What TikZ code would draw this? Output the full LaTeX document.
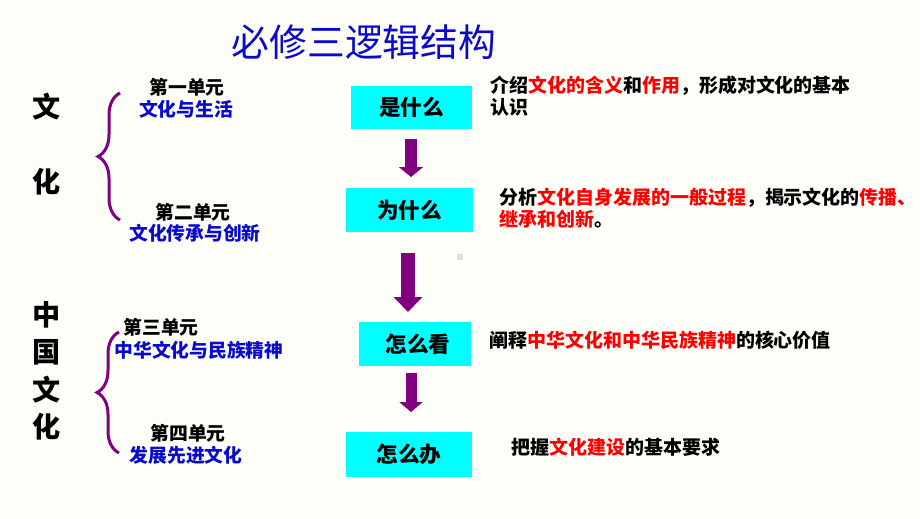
\documentclass[tikz,border=0pt]{standalone}
\usepackage{fontspec}
\setmainfont{Noto Sans CJK SC}
\usetikzlibrary{decorations.pathreplacing,arrows.meta}
\definecolor{zise}{RGB}{128,0,128}
\definecolor{lan}{RGB}{10,10,205}
\definecolor{qing}{RGB}{0,255,255}
\definecolor{mibai}{RGB}{254,254,249}
\tikzset{
  unit/.style={font=\fontsize{10.7}{12}\selectfont\bfseries, inner sep=0},
  topic/.style={unit, text=lan},
  wenti/.style={fill=qing, font=\fontsize{12.3}{14}\selectfont\bfseries, inner sep=0},
  desc/.style={font=\fontsize{10.8}{12.6}\selectfont\bfseries, inner sep=0, anchor=west, align=left},
  bigzi/.style={font=\fontsize{16}{21.3}\selectfont\bfseries, inner sep=0, align=center},
  kuohao/.style={zise, line width=0.06cm, decorate, decoration={brace, amplitude=0.44cm}},
  jiantou/.style={zise}
}
\begin{document}
\begin{tikzpicture}[x=0.02cm, y=-0.02cm]
\fill[mibai] (0,0) rectangle (920,518);
\useasboundingbox (0,0) rectangle (920,518);
\node[text=lan, font=\fontsize{21.5}{24}\selectfont, inner sep=0] (title) at (364,42) {必修三逻辑结构};
\node[bigzi] (wen) at (47,107) {文};
\node[bigzi] (hua) at (47,182) {化};
\node[bigzi] (zgwh) at (47,371) {中\\国\\文\\化};
\draw[kuohao] (120,220) -- (120,93);
\draw[kuohao] (119,453) -- (119,332);
\node[unit] (u1) at (187,87) {第一单元};
\node[topic] (t1) at (186,109) {文化与生活};
\node[unit] (u2) at (193,212) {第二单元};
\node[topic] (t2) at (195,233) {文化传承与创新};
\node[unit] (u3) at (161,327) {第三单元};
\node[topic] (t3) at (199,350) {中华文化与民族精神};
\node[unit] (u4) at (188,433) {第四单元};
\node[topic] (t4) at (186,455) {发展先进文化};
\node[wenti, minimum width=2.42cm, minimum height=0.86cm] (shi) at (411.5,107.5) {是什么};
\node[wenti, minimum width=2.54cm, minimum height=0.88cm] (wei) at (409.5,210) {为什么};
\node[wenti, minimum width=2.24cm, minimum height=0.88cm] (kan) at (415,344) {\hspace{0.12cm}怎么看};
\node[wenti, minimum width=2.52cm, minimum height=0.9cm] (ban) at (409,454.5) {怎么办};
\coordinate (a1) at (411,139); \coordinate (a1e) at (411,177);
\coordinate (a2) at (408,253); \coordinate (a2e) at (408,312);
\coordinate (a3) at (411,373); \coordinate (a3e) at (411,412);
\draw[jiantou, line width=0.24cm, -{Triangle[length=0.2cm,width=0.48cm]}] (a1) -- (a1e);
\draw[jiantou, line width=0.28cm, -{Triangle[length=0.3cm,width=0.56cm]}] (a2) -- (a2e);
\draw[jiantou, line width=0.22cm, -{Triangle[length=0.2cm,width=0.46cm]}] (a3) -- (a3e);
\fill[gray!25] (457,254) rectangle (463,260);
\node[desc] (d1) at (490,96) {介绍\textcolor{red}{文化的含义}和\textcolor{red}{作用}，形成对文化的基本\\认识};
\node[desc] (d2) at (499,208.5) {分析\textcolor{red}{文化自身发展的一般过程}，揭示文化的\textcolor{red}{传播、}\\\textcolor{red}{继承和创新}。};
\node[desc] (d3) at (489,340) {阐释\textcolor{red}{中华文化和中华民族精神}的核心价值};
\node[desc] (d4) at (511,447) {把握\textcolor{red}{文化建设}的基本要求};
\end{tikzpicture}
\end{document}
